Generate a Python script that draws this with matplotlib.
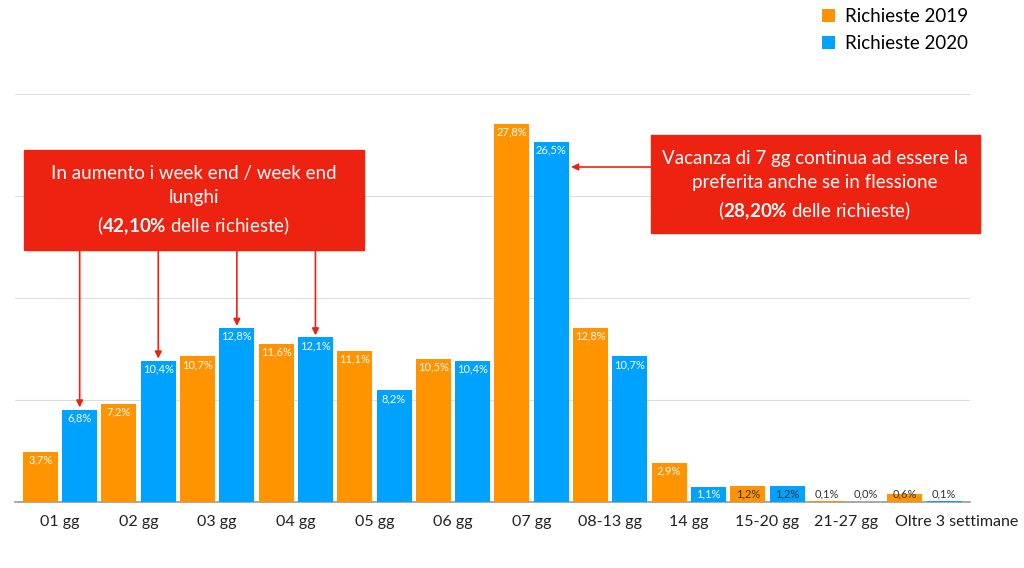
import matplotlib.pyplot as plt
import numpy as np
from matplotlib.patches import Rectangle
from matplotlib.transforms import ScaledTranslation

plt.rcParams['font.family'] = ['Lato', 'DejaVu Sans']
plt.rcParams['mathtext.fontset'] = 'custom'
plt.rcParams['mathtext.rm'] = 'Lato'
plt.rcParams['mathtext.bf'] = 'Lato:bold'

categories = ['01 gg', '02 gg', '03 gg', '04 gg', '05 gg', '06 gg', '07 gg',
              '08-13 gg', '14 gg', '15-20 gg', '21-27 gg', 'Oltre 3 settimane']
req_2019 = [3.7, 7.2, 10.7, 11.6, 11.1, 10.5, 27.8, 12.8, 2.9, 1.2, 0.1, 0.6]
req_2020 = [6.8, 10.4, 12.8, 12.1, 8.2, 10.4, 26.5, 10.7, 1.1, 1.2, 0.0, 0.1]
series_names = ['Richieste 2019', 'Richieste 2020']

ORANGE = '#FF9300'
BLUE = '#00A2FF'
RED = '#EE2211'

fig = plt.figure(figsize=(10.24, 5.68), dpi=100)
W, H = 1024, 568
ax = fig.add_axes([15 / W, (H - 502) / H, (970 - 15) / W, (502 - 94) / H])

x = np.arange(len(categories))
w = 0.445
b1 = ax.bar(x - 0.25, req_2019, w, color=ORANGE, label=series_names[0], zorder=3)
b2 = ax.bar(x + 0.25, req_2020, w, color=BLUE, label=series_names[1], zorder=3)

ax.set_xlim(-0.573, 11.578)
ax.set_ylim(0, 30)
ax.set_yticks([7.5, 15, 22.5, 30])
ax.yaxis.grid(True, color='#DDDDDD', lw=0.8, zorder=0)
ax.tick_params(axis='y', left=False, labelleft=False)
ax.tick_params(axis='x', bottom=False, labelsize=11.5, pad=6, colors='#222222')
ax.set_xticks(x)
ax.set_xticklabels(categories)
# last label sits a bit to the right in the original
last = ax.get_xticklabels()[-1]
last.set_transform(last.get_transform() + ScaledTranslation(32 / 100, 0, fig.dpi_scale_trans))
for s in ['top', 'right', 'left']:
    ax.spines[s].set_visible(False)
ax.spines['bottom'].set_color('#999999')
ax.spines['bottom'].set_linewidth(1.2)

# value labels
for xs, vals in [(x - 0.25, req_2019), (x + 0.25, req_2020)]:
    for xi, v in zip(xs, vals):
        y = max(v - 0.6, 0.6)
        col = 'white' if v >= 1.1 and not (v == 1.2) else '#333333'
        ax.text(xi, y, f'{v:.1f}%'.replace('.', ','), ha='center', va='center',
                fontsize=8, color=col, zorder=4)

# annotation boxes (figure pixels, from top-left)
def px_box(x0, y0, x1, y1):
    fig.add_artist(Rectangle((x0 / W, 1 - y1 / H), (x1 - x0) / W, (y1 - y0) / H,
                             transform=fig.transFigure, color=RED, zorder=5))

px_box(24, 150, 364, 250)
fig.text(194 / W, 1 - 201 / H, 'In aumento i week end / week end\nlunghi\n'
         r'($\mathbf{42{,}10\%}$ delle richieste)',
         ha='center', va='center', color='white', fontsize=13.5,
         linespacing=1.45, zorder=6)

px_box(651, 135, 980, 233)
fig.text(815 / W, 1 - 186 / H, 'Vacanza di 7 gg continua ad essere la\npreferita anche se in flessione\n'
         r'($\mathbf{28{,}20\%}$ delle richieste)',
         ha='center', va='center', color='white', fontsize=13.5,
         linespacing=1.45, zorder=6)

# arrows from left box to the 2020 bars of 01-04 gg
box_bottom = (502 - 250) / (502 - 94) * 30
for i in range(4):
    ax.annotate('', xy=(x[i] + 0.25, req_2020[i] + 0.15),
                xytext=(x[i] + 0.25, box_bottom),
                arrowprops=dict(arrowstyle='-|>', color=RED, lw=1.2,
                                mutation_scale=10, shrinkA=0, shrinkB=0),
                zorder=4, annotation_clip=False)

# arrow from right box to 07 gg 2020 bar
y_arrow = (502 - 167) / (502 - 94) * 30
ax.annotate('', xy=(x[6] + 0.25 + w / 2 + 0.03, y_arrow),
            xytext=((651 - 60) / 78.6 + 0.1, y_arrow),
            arrowprops=dict(arrowstyle='-|>', color=RED, lw=1.2,
                            mutation_scale=10, shrinkA=0, shrinkB=0),
            zorder=4, annotation_clip=False)

fig.legend(handles=[b1, b2], loc='upper left', bbox_to_anchor=(822 / W, 1 - 8 / H),
           frameon=False, fontsize=13.5, handlelength=0.7, handleheight=0.7,
           handletextpad=0.55, labelspacing=0.55, borderpad=0, borderaxespad=0)

fig.savefig('out.png', dpi=100, facecolor='white')
